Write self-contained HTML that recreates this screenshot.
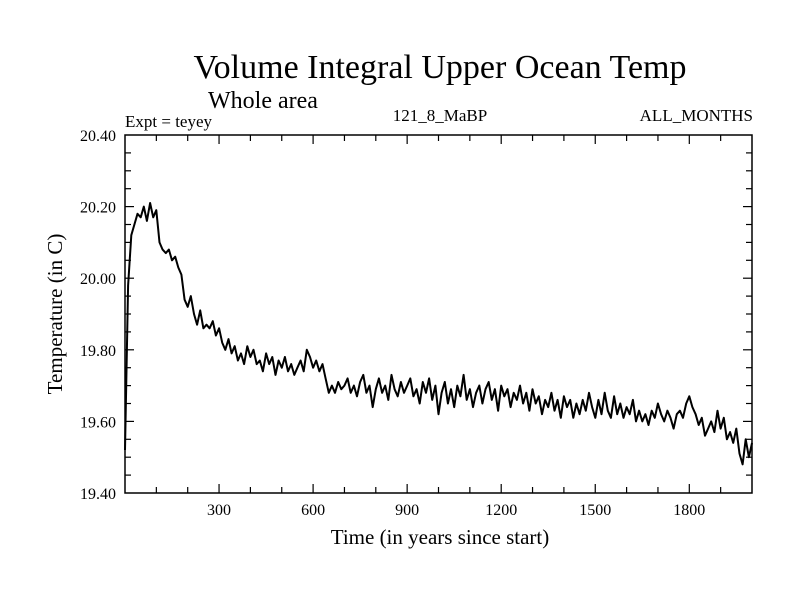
<!DOCTYPE html>
<html><head><meta charset="utf-8"><style>
body{margin:0;background:#fff}
svg text{font-family:"Liberation Serif",serif;fill:#000}
</style></head><body>
<svg width="800" height="600" xmlns="http://www.w3.org/2000/svg">
<text x="440" y="78" font-size="34" text-anchor="middle">Volume Integral Upper Ocean Temp</text>
<text x="208" y="108" font-size="24">Whole area</text>
<text x="125" y="127" font-size="17">Expt = teyey</text>
<text x="440" y="121" font-size="17" text-anchor="middle">121_8_MaBP</text>
<text x="753" y="121" font-size="17" text-anchor="end">ALL_MONTHS</text>
<text x="440" y="544" font-size="21" text-anchor="middle">Time (in years since start)</text>
<text transform="translate(62,314) rotate(-90)" font-size="21" text-anchor="middle">Temperature (in C)</text>
<g id="axes"></g>
<rect x="125" y="135" width="627" height="358" fill="none" stroke="#000" stroke-width="1.5"/>
<path id="line" fill="none" stroke="#000" stroke-width="2" stroke-linejoin="round"/>
</svg>
<script>
const years=[];for(let i=0;i<=200;i++)years.push(i*10);
const temps=[19.52,19.98,20.12,20.15,20.18,20.17,20.20,20.16,20.21,20.17,
20.19,20.10,20.08,20.07,20.08,20.05,20.06,20.03,20.01,19.94,
19.92,19.95,19.90,19.87,19.91,19.86,19.87,19.86,19.88,19.84,
19.86,19.82,19.80,19.83,19.79,19.81,19.77,19.79,19.76,19.81,
19.78,19.80,19.76,19.77,19.74,19.79,19.76,19.78,19.73,19.77,
19.75,19.78,19.74,19.76,19.73,19.75,19.77,19.74,19.80,19.78,
19.75,19.77,19.74,19.76,19.72,19.68,19.70,19.68,19.71,19.69,
19.70,19.72,19.68,19.70,19.67,19.71,19.73,19.68,19.70,19.64,
19.69,19.72,19.68,19.70,19.66,19.73,19.69,19.67,19.71,19.68,
19.70,19.72,19.67,19.69,19.65,19.71,19.68,19.72,19.66,19.70,
19.62,19.68,19.71,19.65,19.69,19.64,19.70,19.67,19.73,19.66,
19.69,19.64,19.68,19.70,19.65,19.69,19.71,19.66,19.69,19.63,
19.70,19.67,19.69,19.64,19.68,19.66,19.70,19.65,19.68,19.63,
19.69,19.65,19.67,19.62,19.66,19.64,19.68,19.63,19.66,19.61,
19.67,19.64,19.66,19.61,19.65,19.62,19.66,19.63,19.68,19.64,
19.61,19.66,19.62,19.68,19.63,19.61,19.67,19.62,19.65,19.61,
19.64,19.62,19.66,19.60,19.63,19.60,19.62,19.59,19.63,19.61,
19.65,19.62,19.60,19.63,19.61,19.58,19.62,19.63,19.61,19.65,
19.67,19.64,19.62,19.59,19.61,19.56,19.58,19.60,19.57,19.63,
19.58,19.61,19.55,19.57,19.54,19.58,19.51,19.48,19.55,19.50,19.54];
const xTicks=[300,600,900,1200,1500,1800];
const yTicks=[19.4,19.6,19.8,20.0,20.2,20.4];
const X0=125,X1=752,Y0=493,Y1=135;
const xs=v=>X0+(v/2000)*(X1-X0);
const ys=v=>Y0-(v-19.4)/1.0*(Y0-Y1);
const NS="http://www.w3.org/2000/svg";
const g=document.getElementById('axes');
function ln(x1,y1,x2,y2,name){const l=document.createElementNS(NS,'line');
l.setAttribute('x1',x1);l.setAttribute('y1',y1);l.setAttribute('x2',x2);l.setAttribute('y2',y2);
l.setAttribute('stroke','#000');l.setAttribute('stroke-width','1.2');


g.appendChild(l);}
function tx(x,y,s,anchor,name){const t=document.createElementNS(NS,'text');
t.setAttribute('x',x);t.setAttribute('y',y);t.setAttribute('font-size','16');t.setAttribute('text-anchor',anchor);t.textContent=s;


g.appendChild(t);}
for(let v=100;v<2000;v+=100){const x=xs(v);const major=v%300===0;const L=major?9:6;
ln(x,Y0,x,Y0-L,'x-tick');ln(x,Y1,x,Y1+L,'x-tick');}
xTicks.forEach(v=>tx(xs(v),515,String(v),'middle','x-tick-label'));
for(let k=1;k<20;k++){const v=19.4+k*0.05;const y=ys(v);const major=k%4===0;const L=major?9:6;
ln(X0,y,X0+L,y,'y-tick');ln(X1,y,X1-L,y,'y-tick');}
yTicks.forEach(v=>tx(116,ys(v)+6,v.toFixed(2),'end','y-tick-label'));
let d='';years.forEach((yr,i)=>{d+=(i?'L':'M')+xs(yr).toFixed(1)+','+ys(temps[i]).toFixed(1);});
document.getElementById('line').setAttribute('d',d);
</script>
</body></html>
